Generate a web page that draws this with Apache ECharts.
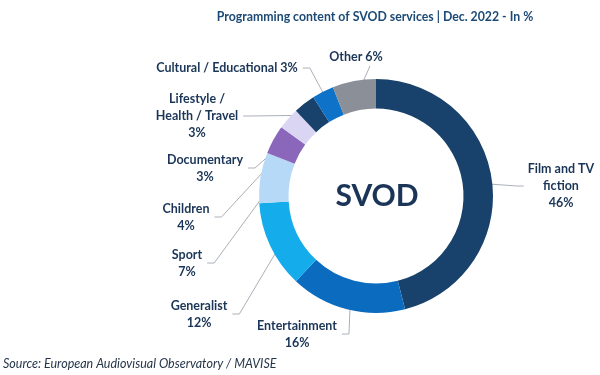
<!DOCTYPE html>
<html>
<head>
<meta charset="utf-8">
<script src="https://cdn.jsdelivr.net/npm/echarts@6/dist/echarts.min.js"></script>
<style>html,body{margin:0;padding:0;background:#fff;}#c{width:600px;height:375px;}</style>
</head>
<body>
<div id="c"></div>
<script>
var categories = ['Film and TV\nfiction', 'Entertainment', 'Generalist', 'Sport', 'Children', 'Documentary', 'Lifestyle /\nHealth / Travel', 'Cultural / Educational', 'Other'];
var values = [46, 16, 12, 7, 4, 3, 3, 3, 6];
var colors = ['#18416b', '#0b6bbf', '#15aceb', '#b6d9f7', '#8b67bb', '#d9d5f3', '#18416b', '#0d72c8', '#8b8f98'];
var inlineLabel = [false, false, false, false, false, false, false, true, true];

var titleText = 'Programming content of SVOD services | Dec. 2022 - In %';
var sourceText = 'Source: European Audiovisual Observatory / MAVISE';
var centerText = 'SVOD';

// label placement (layout only): [centerX, centerY, side where the leader line attaches]
var labelPos = [
  [561, 186, 'left'],
  [297, 334, 'right'],
  [199, 314, 'right'],
  [187, 263, 'right'],
  [186, 217, 'right'],
  [205, 168, 'right'],
  [197, 116, 'right'],
  [227, 68, 'right'],
  [356, 57, 'bottom']
];

var CX = 376, CY = 196, R_IN = 87.5, R_OUT = 117;
var TXT = '#1a3557';
var FONT = 'Lato';

var data = categories.map(function (c, i) {
  return { name: c, value: values[i], itemStyle: { color: colors[i] } };
});

var chart = echarts.init(document.getElementById('c'), null, { renderer: 'canvas' });
chart.setOption({
  animation: false,
  backgroundColor: '#ffffff',
  graphic: [
    { type: 'text', x: 375, y: 17, style: { text: titleText, fontFamily: FONT, fontSize: 12.3, fontWeight: 'bold', fill: '#1c4a75', align: 'center', verticalAlign: 'middle' } },
    { type: 'text', x: 377, y: 196, style: { text: centerText, fontFamily: FONT, fontSize: 30, fontWeight: 'bold', fill: TXT, align: 'center', verticalAlign: 'middle' } },
    { type: 'text', x: 3, y: 364, style: { text: sourceText, fontFamily: FONT, fontSize: 12.5, fontStyle: 'italic', fill: '#26364a', align: 'left', verticalAlign: 'middle' } }
  ],
  series: [{
    type: 'pie',
    center: [CX, CY],
    radius: [R_IN, R_OUT],
    startAngle: 90,
    clockwise: true,
    avoidLabelOverlap: false,
    silent: true,
    emphasis: { disabled: true },
    data: data,
    itemStyle: { borderWidth: 0 },
    label: {
      show: true,
      position: 'outside',
      fontFamily: FONT,
      fontSize: 12.5,
      fontWeight: 'bold',
      color: TXT,
      lineHeight: 17,
      align: 'center',
      formatter: function (p) {
        return p.name + (inlineLabel[p.dataIndex] ? ' ' : '\n') + p.value + '%';
      }
    },
    labelLine: { show: true, length: 10, length2: 10, lineStyle: { color: '#aab0b8', width: 1 } },
    labelLayout: function (params) {
      var i = params.dataIndex;
      var pos = labelPos[i];
      var w = params.labelRect.width, h = params.labelRect.height;
      var p0 = params.labelLinePoints ? params.labelLinePoints[0] : [CX, CY];
      var dx = p0[0] - CX, dy = p0[1] - CY;
      var len = Math.sqrt(dx * dx + dy * dy) || 1;
      var rMid = (R_IN + R_OUT) / 2;
      var start = [CX + dx / len * rMid, CY + dy / len * rMid];
      var pts;
      if (pos[2] === 'right') {
        var end = [pos[0] + w / 2 + 5, pos[1]];
        pts = [start, [end[0] + 7, end[1]], end];
      } else if (pos[2] === 'left') {
        var end2 = [pos[0] - w / 2 - 4, pos[1]];
        pts = [start, [end2[0] - 7, end2[1]], end2];
      } else {
        var end3 = [pos[0] + 14, pos[1] + 9];
        pts = [start, end3];
      }
      return {
        x: pos[0], y: pos[1],
        align: 'center', verticalAlign: 'middle',
        labelLinePoints: pts,
        hideOverlap: false, moveOverlap: null
      };
    }
  }]
});
</script>
</body>
</html>
